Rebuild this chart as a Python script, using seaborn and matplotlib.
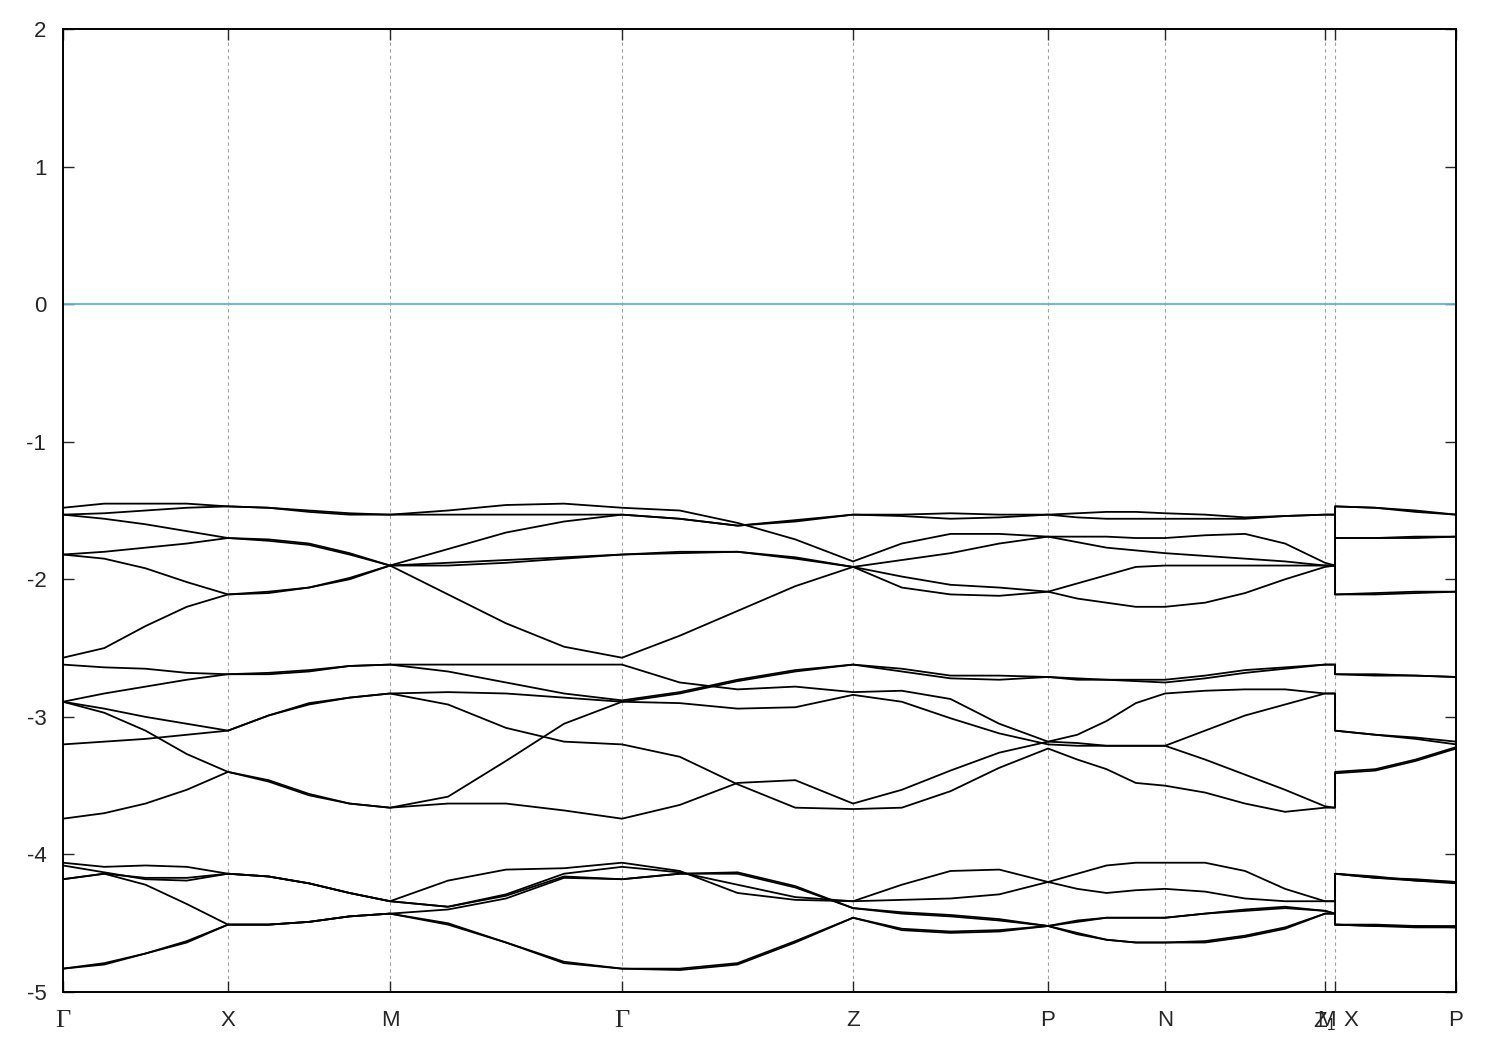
# Band structure along the high-symmetry path (gnuplot-like look)
import numpy as np
import pandas as pd
import seaborn as sns
import matplotlib.pyplot as plt

# High-symmetry points along the path: G X M G Z P N Z1 M | X P
kpts = [0.0, 1.65, 3.27, 5.59, 7.90, 9.85, 11.02, 12.62, 12.72, 13.93]
tick_labels = ['Γ', 'X', 'M', 'Γ', 'Z', 'P', 'N', '', '', 'P']

# Energies (eV), 5 samples per segment on G-X-M-G-Z-P-N-Z1,
# then M, then 4 samples on X-P
band_a = [-1.48, -1.45, -1.45, -1.45, -1.47, -1.48, -1.51, -1.53, -1.53, -1.50, -1.46, -1.45, -1.48,
          -1.50, -1.59, -1.71, -1.87, -1.74, -1.67, -1.67, -1.69, -1.69, -1.69, -1.70, -1.70,
          -1.68, -1.67, -1.74, -1.88, -1.90]
band_b = [-1.53, -1.52, -1.50, -1.48, -1.47, -1.48, -1.50, -1.52, -1.53, -1.53, -1.53, -1.53, -1.53,
          -1.56, -1.61, -1.58, -1.53, -1.53, -1.52, -1.53, -1.53, -1.52, -1.51, -1.51, -1.52,
          -1.53, -1.55, -1.54, -1.53, -1.53]
band_c = [-1.53, -1.56, -1.60, -1.65, -1.70, -1.72, -1.75, -1.82, -1.90, -1.78, -1.66, -1.58, -1.53,
          -1.56, -1.61, -1.57, -1.53, -1.54, -1.56, -1.55, -1.53, -1.55, -1.56, -1.56, -1.56,
          -1.56, -1.56, -1.54, -1.53, -1.53]
band_d = [-1.82, -1.80, -1.77, -1.74, -1.70, -1.71, -1.74, -1.81, -1.90, -1.88, -1.86, -1.84, -1.82,
          -1.81, -1.80, -1.85, -1.91, -1.86, -1.81, -1.74, -1.69, -1.73, -1.77, -1.79, -1.81,
          -1.83, -1.85, -1.87, -1.90, -1.90]
band_e = [-1.82, -1.85, -1.92, -2.02, -2.11, -2.10, -2.06, -2.00, -1.90, -1.90, -1.88, -1.85, -1.82,
          -1.80, -1.80, -1.84, -1.91, -1.98, -2.04, -2.06, -2.09, -2.03, -1.97, -1.91, -1.90,
          -1.90, -1.90, -1.90, -1.90, -1.90]
band_f = [-2.57, -2.50, -2.34, -2.20, -2.11, -2.09, -2.06, -1.99, -1.90, -2.11, -2.32, -2.49, -2.57,
          -2.41, -2.23, -2.05, -1.91, -2.06, -2.11, -2.12, -2.09, -2.14, -2.17, -2.20, -2.20,
          -2.17, -2.10, -2.00, -1.91, -1.90]

band_g = [-2.62, -2.64, -2.65, -2.68, -2.69, -2.69, -2.67, -2.63, -2.62, -2.62, -2.62, -2.62, -2.62,
          -2.75, -2.80, -2.78, -2.82, -2.81, -2.87, -3.05, -3.18, -3.13, -3.03, -2.90, -2.83,
          -2.81, -2.80, -2.80, -2.83, -2.83]
band_h = [-2.89, -2.83, -2.78, -2.73, -2.69, -2.68, -2.66, -2.63, -2.62, -2.67, -2.75, -2.83, -2.88,
          -2.82, -2.73, -2.66, -2.62, -2.65, -2.70, -2.70, -2.71, -2.72, -2.73, -2.73, -2.73,
          -2.70, -2.66, -2.64, -2.62, -2.62]
band_i = [-2.89, -2.94, -3.00, -3.05, -3.10, -2.99, -2.90, -2.86, -2.83, -2.82, -2.83, -2.86, -2.89,
          -2.83, -2.74, -2.67, -2.62, -2.67, -2.72, -2.73, -2.71, -2.73, -2.73, -2.74, -2.75,
          -2.72, -2.68, -2.65, -2.62, -2.62]
band_j = [-2.89, -2.97, -3.10, -3.27, -3.40, -3.46, -3.56, -3.63, -3.66, -3.58, -3.32, -3.05, -2.89,
          -2.90, -2.94, -2.93, -2.84, -2.89, -3.01, -3.12, -3.20, -3.21, -3.21, -3.21, -3.21,
          -3.10, -2.99, -2.91, -2.83, -2.83]
band_k = [-3.20, -3.18, -3.16, -3.13, -3.10, -2.99, -2.91, -2.86, -2.83, -2.91, -3.08, -3.18, -3.20,
          -3.29, -3.49, -3.66, -3.67, -3.66, -3.54, -3.37, -3.23, -3.31, -3.38, -3.48, -3.50,
          -3.55, -3.63, -3.69, -3.66, -3.66]
band_l = [-3.74, -3.70, -3.63, -3.53, -3.40, -3.47, -3.57, -3.63, -3.66, -3.63, -3.63, -3.68, -3.74,
          -3.64, -3.48, -3.46, -3.63, -3.53, -3.39, -3.26, -3.18, -3.19, -3.21, -3.21, -3.21,
          -3.31, -3.42, -3.53, -3.65, -3.66]

band_p1 = [-4.06, -4.09, -4.08, -4.09, -4.14, -4.16, -4.21, -4.28, -4.34, -4.19, -4.11, -4.10, -4.06,
           -4.12, -4.28, -4.33, -4.34, -4.22, -4.12, -4.11, -4.20, -4.25, -4.28, -4.26, -4.25,
           -4.27, -4.32, -4.34, -4.34, -4.34]
band_p2 = [-4.08, -4.13, -4.18, -4.19, -4.14, -4.16, -4.21, -4.28, -4.34, -4.38, -4.30, -4.16, -4.18,
           -4.14, -4.13, -4.23, -4.39, -4.42, -4.44, -4.47, -4.52, -4.48, -4.46, -4.46, -4.46,
           -4.43, -4.40, -4.38, -4.41, -4.43]
band_p3 = [-4.18, -4.14, -4.22, -4.36, -4.51, -4.51, -4.49, -4.45, -4.43, -4.40, -4.32, -4.17, -4.18,
           -4.14, -4.14, -4.24, -4.39, -4.43, -4.45, -4.48, -4.52, -4.49, -4.46, -4.46, -4.46,
           -4.43, -4.41, -4.39, -4.41, -4.43]
band_p4 = [-4.83, -4.79, -4.72, -4.63, -4.51, -4.51, -4.49, -4.45, -4.43, -4.50, -4.64, -4.78, -4.83,
           -4.83, -4.79, -4.63, -4.46, -4.54, -4.56, -4.55, -4.52, -4.57, -4.62, -4.64, -4.64,
           -4.63, -4.59, -4.53, -4.43, -4.43]
band_p5 = [-4.83, -4.80, -4.72, -4.64, -4.51, -4.51, -4.49, -4.45, -4.43, -4.51, -4.64, -4.79, -4.83,
           -4.84, -4.80, -4.64, -4.46, -4.55, -4.57, -4.56, -4.52, -4.58, -4.62, -4.64, -4.64,
           -4.64, -4.60, -4.54, -4.43, -4.43]
band_p6 = [-4.18, -4.14, -4.17, -4.17, -4.14, -4.16, -4.21, -4.28, -4.34, -4.38, -4.29, -4.14, -4.09,
           -4.13, -4.22, -4.31, -4.34, -4.33, -4.32, -4.29, -4.20, -4.14, -4.08, -4.06, -4.06,
           -4.06, -4.12, -4.25, -4.34, -4.34]

# X-P segment after the break
a_xp = [-1.47, -1.48, -1.51, -1.53]
b_xp = [-1.47, -1.48, -1.50, -1.53]
c_xp = [-1.70, -1.70, -1.69, -1.69]
d_xp = [-1.70, -1.70, -1.70, -1.69]
e_xp = [-2.11, -2.11, -2.10, -2.09]
f_xp = [-2.11, -2.10, -2.09, -2.09]
g_xp = [-3.10, -3.13, -3.15, -3.18]
h_xp = [-2.69, -2.70, -2.70, -2.71]
i_xp = [-2.69, -2.69, -2.70, -2.71]
j_xp = [-3.10, -3.13, -3.16, -3.20]
k_xp = [-3.41, -3.39, -3.32, -3.23]
l_xp = [-3.40, -3.38, -3.31, -3.22]
p1_xp = [-4.14, -4.17, -4.19, -4.21]
p2_xp = [-4.14, -4.16, -4.19, -4.20]
p3_xp = [-4.51, -4.52, -4.52, -4.53]
p4_xp = [-4.51, -4.51, -4.52, -4.52]
p5_xp = [-4.51, -4.52, -4.53, -4.53]
p6_xp = [-4.14, -4.17, -4.18, -4.20]

bands = {
    'a': band_a + a_xp, 'b': band_b + b_xp, 'c': band_c + c_xp,
    'd': band_d + d_xp, 'e': band_e + e_xp, 'f': band_f + f_xp,
    'g': band_g + g_xp, 'h': band_h + h_xp, 'i': band_i + i_xp,
    'j': band_j + j_xp, 'k': band_k + k_xp, 'l': band_l + l_xp,
    'p1': band_p1 + p1_xp, 'p2': band_p2 + p2_xp, 'p3': band_p3 + p3_xp,
    'p4': band_p4 + p4_xp, 'p5': band_p5 + p5_xp, 'p6': band_p6 + p6_xp,
}

# k sampling: 5 points per segment up to Z1, then M, then 4 points on X-P
k = [kpts[0]]
for a, b in zip(kpts[:7], kpts[1:8]):
    k += list(np.linspace(a, b, 5)[1:])
k.append(kpts[8])
k += list(np.linspace(kpts[8], kpts[9], 4))

rows = []
for name, vals in bands.items():
    for i, (kk, e) in enumerate(zip(k, vals)):
        rows.append((name, i, kk, e))
df = pd.DataFrame(rows, columns=['band', 'idx', 'k', 'E'])

sns.set_style('white')
plt.rcParams['font.family'] = ['Liberation Sans', 'DejaVu Sans']
plt.rcParams['axes.unicode_minus'] = False

fig = plt.figure(figsize=(15, 10.5), dpi=100)
ax = fig.add_axes([0.042, 0.0552, 0.9287, 0.9172])

# vertical dashed lines at inner high-symmetry points
for x in kpts[1:-1]:
    ax.axvline(x, color='#a0a0a0', lw=0.8, ls=(0, (3, 3)), zorder=0)

ax.axhline(0, color='#56b4e9', lw=1.3)

sns.lineplot(data=df, x='k', y='E', units='band', estimator=None, sort=False,
             color='black', linewidth=1.3, legend=False, ax=ax)

ax.set_xlim(kpts[0], kpts[-1])
ax.set_ylim(-5, 2)
ax.set_yticks(range(-5, 3))
ax.set_yticklabels([str(v) for v in range(-5, 3)])
ax.set_xticks(kpts)
ax.set_xticklabels(tick_labels)
ax.set_xlabel('')
ax.set_ylabel('')

ax.tick_params(axis='both', direction='in', length=8, width=1, labelsize=16,
               top=True, right=True, bottom=True, left=True)
ax.tick_params(axis='x', pad=13)
ax.tick_params(axis='y', pad=12)
for s in ax.spines.values():
    s.set_linewidth(1.4)
    s.set_color('black')

# the Gamma labels use a serif face like the original
for t in ax.get_xticklabels():
    if t.get_text() == 'Γ':
        t.set_family(['Liberation Serif', 'DejaVu Serif'])
        t.set_fontsize(19)

# crowded labels near Z1 / M | X (they overlap in the original too)
for lab, x in [('Z$_\\mathregular{1}$', 12.62), ('M', 12.63), ('X', 12.88)]:
    ax.annotate(lab, xy=(x, 0), xycoords=('data', 'axes fraction'),
                xytext=(0, -13), textcoords='offset points',
                ha='center', va='top', fontsize=16)

fig.savefig('out.png', dpi=100)
